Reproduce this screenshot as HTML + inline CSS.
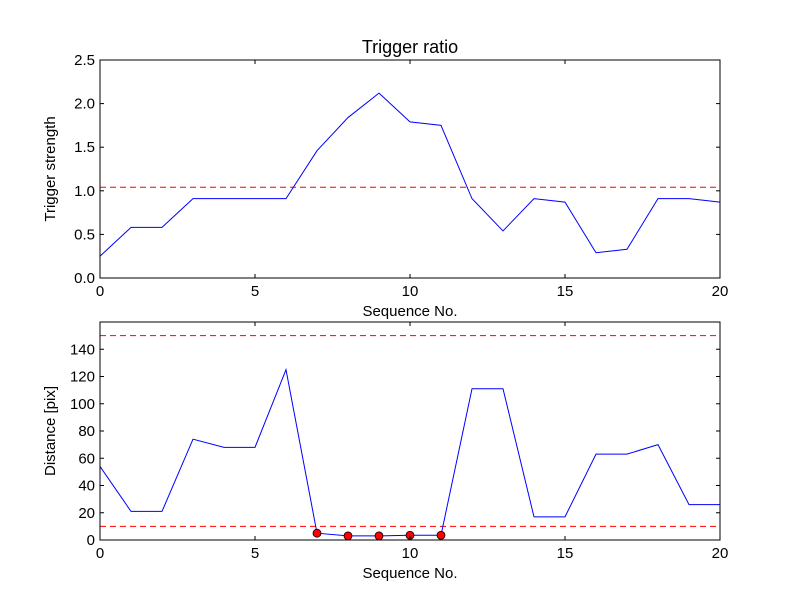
<!DOCTYPE html>
<html><head><meta charset="utf-8"><style>
body{margin:0;background:#fff;}
svg text{font-family:"Liberation Sans","DejaVu Sans",sans-serif;}
</style></head><body>
<svg id="c" width="800" height="600" xmlns="http://www.w3.org/2000/svg"></svg>
<script>
const xCats=[0,1,2,3,4,5,6,7,8,9,10,11,12,13,14,15,16,17,18,19,20];
const ratio=[0.25,0.58,0.58,0.91,0.91,0.91,0.91,1.46,1.84,2.12,1.79,1.75,0.91,0.54,0.91,0.87,0.29,0.33,0.91,0.91,0.87];
const ratioThreshold=[1.04];
const distance=[54,21,21,74,68,68,125,5,3,3,3.5,3.5,111,111,17,17,63,63,70,26,26];
const distThresholds=[150,10];
const markedIdx=[7,8,9,10,11];
const xTicks=[0,5,10,15,20];
const yTicksTop=["0.0","0.5","1.0","1.5","2.0","2.5"];
const yTicksBot=[0,20,40,60,80,100,120,140];
const NS="http://www.w3.org/2000/svg";
const svg=document.getElementById('c');
function mk(t,a,p){const e=document.createElementNS(NS,t);for(const k in a)e.setAttribute(k,a[k]);(p||svg).appendChild(e);return e;}
function panel(name,L,R,T,B,ymin,ymax,yt,ytl,series,thr,title,ylab,marks){
  const g=mk('g',{});
  
  
  const sx=v=>L+(v-0)/(20-0)*(R-L), sy=v=>B-(v-ymin)/(ymax-ymin)*(B-T);
  thr.forEach(t=>{const l=mk('line',{x1:L,x2:R,y1:sy(t),y2:sy(t),stroke:'#f00','stroke-dasharray':'6,4','stroke-width':1},g);
    });
  const p=mk('polyline',{points:series.map((v,i)=>sx(xCats[i])+','+sy(v)).join(' '),fill:'none',stroke:'#00f','stroke-width':1},g);
  
  (marks||[]).forEach(i=>{const c=mk('circle',{cx:sx(xCats[i]),cy:sy(series[i]),r:4,fill:'#f00',stroke:'#000','stroke-width':0.8},g);
    });
  const f=mk('rect',{x:L,y:T,width:R-L,height:B-T,fill:'none',stroke:'#000','stroke-width':1},g);
  
  xTicks.forEach(v=>{const x=sx(v);mk('line',{x1:x,x2:x,y1:B,y2:B-4,stroke:'#000'},g);mk('line',{x1:x,x2:x,y1:T,y2:T+4,stroke:'#000'},g);
    const t=mk('text',{x:x,y:B+18,'text-anchor':'middle','font-size':15},g);t.textContent=v;
    });
  yt.forEach((v,i)=>{const y=sy(v);mk('line',{x1:L,x2:L+4,y1:y,y2:y,stroke:'#000'},g);mk('line',{x1:R,x2:R-4,y1:y,y2:y,stroke:'#000'},g);
    const t=mk('text',{x:L-5,y:y+5,'text-anchor':'end','font-size':15},g);t.textContent=ytl[i];
    });
  const xl=mk('text',{x:(L+R)/2,y:B+38,'text-anchor':'middle','font-size':15},g);xl.textContent='Sequence No.';
  
  const yl=mk('text',{x:0,y:0,'text-anchor':'middle','font-size':15,transform:`translate(${L-45},${(T+B)/2}) rotate(-90)`},g);yl.textContent=ylab;
  
  if(title){const tt=mk('text',{x:(L+R)/2,y:T-7,'text-anchor':'middle','font-size':18},g);tt.textContent=title;
    }
}
panel('top-panel',100,720,60,278,0,2.5,[0,0.5,1,1.5,2,2.5],yTicksTop,ratio,ratioThreshold,'Trigger ratio','Trigger strength',null);
panel('bottom-panel',100,720,322,540,0,160,yTicksBot,yTicksBot,distance,distThresholds,null,'Distance [pix]',markedIdx);
</script>
</body></html>
